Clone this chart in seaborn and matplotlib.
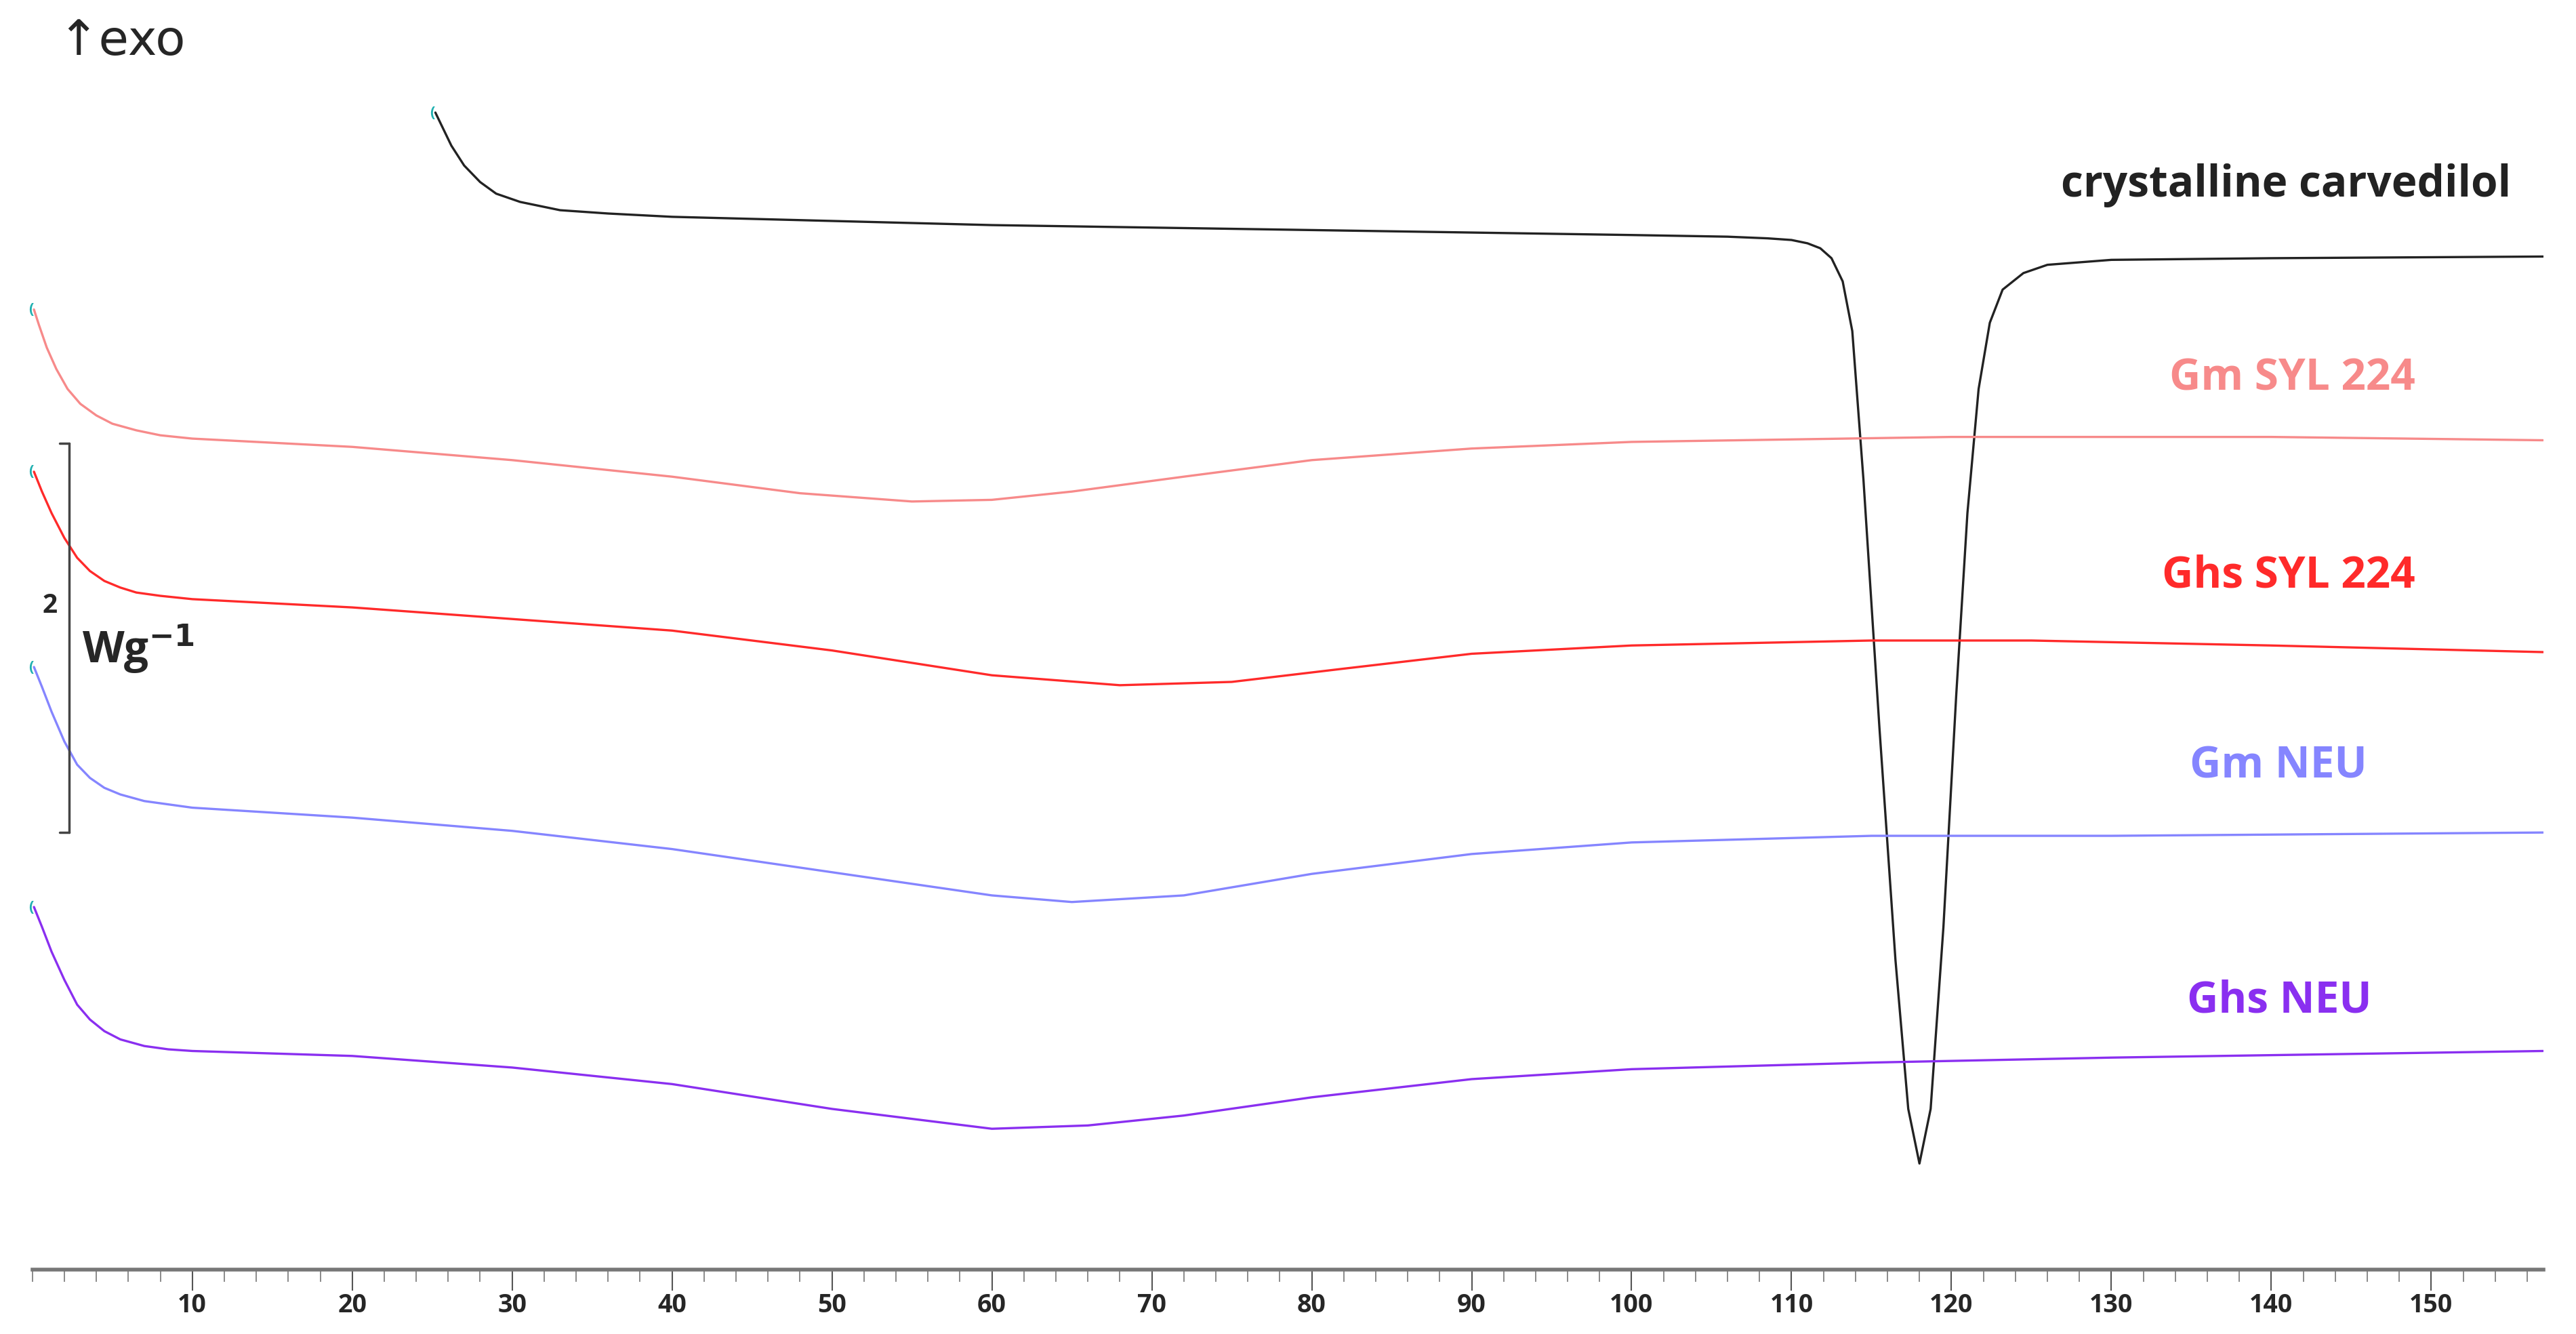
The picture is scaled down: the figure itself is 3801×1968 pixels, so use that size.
import matplotlib
matplotlib.use("Agg")
import matplotlib.pyplot as plt
from matplotlib.ticker import MultipleLocator
import seaborn as sns
import pandas as pd

# temperature (deg C) and curve height (pixels from top of a 806 px tall view)
PX_PER_WG = 117.5  # the 2 W/g scale bar spans 235 px

cryst_t = [25.2, 25.6, 26.2, 27, 28, 29, 30.5, 33, 36, 40, 60, 80, 100, 106, 108.5, 110, 111, 111.8, 112.5, 113.2,
           113.8, 114.5, 115.5, 116.5, 117.3, 118, 118.7, 119.5, 120.3, 121, 121.7, 122.4, 123.2, 124.5, 126, 130, 140, 157]
cryst_px = [68, 76, 88, 100, 110, 117, 122, 127, 129, 131, 136, 139, 142, 143, 144, 145, 147, 150, 156, 170,
            200, 290, 440, 580, 670, 703, 670, 560, 420, 310, 235, 195, 175, 165, 160, 157, 156, 155]

gm_syl_t = [0.1, 0.4, 0.9, 1.5, 2.2, 3, 4, 5, 6.5, 8, 10, 20, 30, 40, 48, 55, 60, 65, 72, 80, 90, 100, 120, 140, 157]
gm_syl_px = [187, 196, 210, 223, 235, 244, 251, 256, 260, 263, 265, 270, 278, 288, 298, 303, 302, 297, 288, 278, 271, 267, 264, 264, 266]

ghs_syl_t = [0.1, 0.6, 1.2, 2, 2.8, 3.6, 4.5, 5.5, 6.5, 8, 10, 20, 30, 40, 50, 60, 68, 75, 82, 90, 100, 115, 125, 140, 157]
ghs_syl_px = [285, 297, 310, 325, 337, 345, 351, 355, 358, 360, 362, 367, 374, 381, 393, 408, 414, 412, 404, 395, 390, 387, 387, 390, 394]

gm_neu_t = [0.1, 0.6, 1.2, 2, 2.8, 3.6, 4.5, 5.5, 7, 8.5, 10, 20, 30, 40, 50, 60, 65, 72, 80, 90, 100, 115, 130, 157]
gm_neu_px = [403, 415, 430, 448, 462, 470, 476, 480, 484, 486, 488, 494, 502, 513, 527, 541, 545, 541, 528, 516, 509, 505, 505, 503]

ghs_neu_t = [0.1, 0.6, 1.2, 2, 2.8, 3.6, 4.5, 5.5, 7, 8.5, 10, 20, 30, 40, 50, 60, 66, 72, 80, 90, 100, 115, 130, 157]
ghs_neu_px = [548, 560, 575, 592, 607, 616, 623, 628, 632, 634, 635, 638, 645, 655, 670, 682, 680, 674, 663, 652, 646, 642, 639, 635]

names = ["crystalline carvedilol", "Gm SYL 224", "Ghs SYL 224", "Gm NEU", "Ghs NEU"]
colors = ["#222222", "#f78a8a", "#ff2a2a", "#8585ff", "#8a2ff0"]
label_t = [155, 149, 149, 146, 146.3]
label_px = [112, 229, 348, 463, 605]

curves = [(cryst_t, cryst_px), (gm_syl_t, gm_syl_px), (ghs_syl_t, ghs_syl_px),
          (gm_neu_t, gm_neu_px), (ghs_neu_t, ghs_neu_px)]
rows = []
for name, (ts, ps) in zip(names, curves):
    for i, (t, p) in enumerate(zip(ts, ps)):
        rows.append({"sample": name, "T": t, "hf": -p / PX_PER_WG, "order": i})
df = pd.DataFrame(rows)

sns.set_style("white")
plt.rcParams["font.family"] = ["Open Sans", "DejaVu Sans"]

fig = plt.figure(figsize=(38.01, 19.68), dpi=100)
axis_px = 767
ax = fig.add_axes([19.7 / 1568, 1 - axis_px / 806, (1548 - 19.7) / 1568, axis_px / 806])

sns.lineplot(data=df, x="T", y="hf", hue="sample", palette=dict(zip(names, colors)),
             sort=False, estimator=None, units="sample", legend=False, linewidth=2.4, ax=ax)

ax.set_xlim(0, 157)
ax.set_ylim(-axis_px / PX_PER_WG, 0)
for s in ["top", "left", "right"]:
    ax.spines[s].set_visible(False)
ax.spines["bottom"].set_color("#777777")
ax.spines["bottom"].set_linewidth(4)
ax.set_yticks([])
ax.xaxis.set_minor_locator(MultipleLocator(2))
ax.set_xticks(range(10, 151, 10))
ax.tick_params(axis="x", which="major", length=22, width=1.5, color="#555555", labelsize=27, pad=3, bottom=True)
ax.tick_params(axis="x", which="minor", length=13, width=1.2, color="#777777", bottom=True)
for lab in ax.get_xticklabels():
    lab.set_fontweight("bold")
ax.set_xlabel("")
ax.set_ylabel("")

for name, c, t, p in zip(names, colors, label_t, label_px):
    ax.text(t, -p / PX_PER_WG, name, color=c, fontsize=46, fontweight="bold", ha="right", va="center")

# cyan start markers
for ts, ps in curves:
    ax.text(ts[0] - 0.2, -ps[0] / PX_PER_WG, "(", color="#1fb0b0", fontsize=16, fontweight="bold",
            ha="center", va="center")

# scale bar 2 W/g
y_top, y_bot = -268 / PX_PER_WG, -503 / PX_PER_WG
ax.plot([2.3, 2.3], [y_top, y_bot], color="#444444", lw=2.5, clip_on=False)
ax.plot([1.7, 2.3], [y_top, y_top], color="#444444", lw=2.5)
ax.plot([1.7, 2.3], [y_bot, y_bot], color="#444444", lw=2.5)
ax.text(1.1, -366 / PX_PER_WG, "2", fontsize=28, fontweight="bold", ha="center", va="center")
ax.text(3.1, -392 / PX_PER_WG, "Wg$^{\\mathbf{-1}}$", fontsize=46, fontweight="bold", ha="left", va="center")

fig.text(35 / 1568, 1 - 25 / 806, "↑exo", fontsize=52, ha="left", va="center",
         family=["DejaVu Sans"])

fig.savefig("out.png", dpi=100)
